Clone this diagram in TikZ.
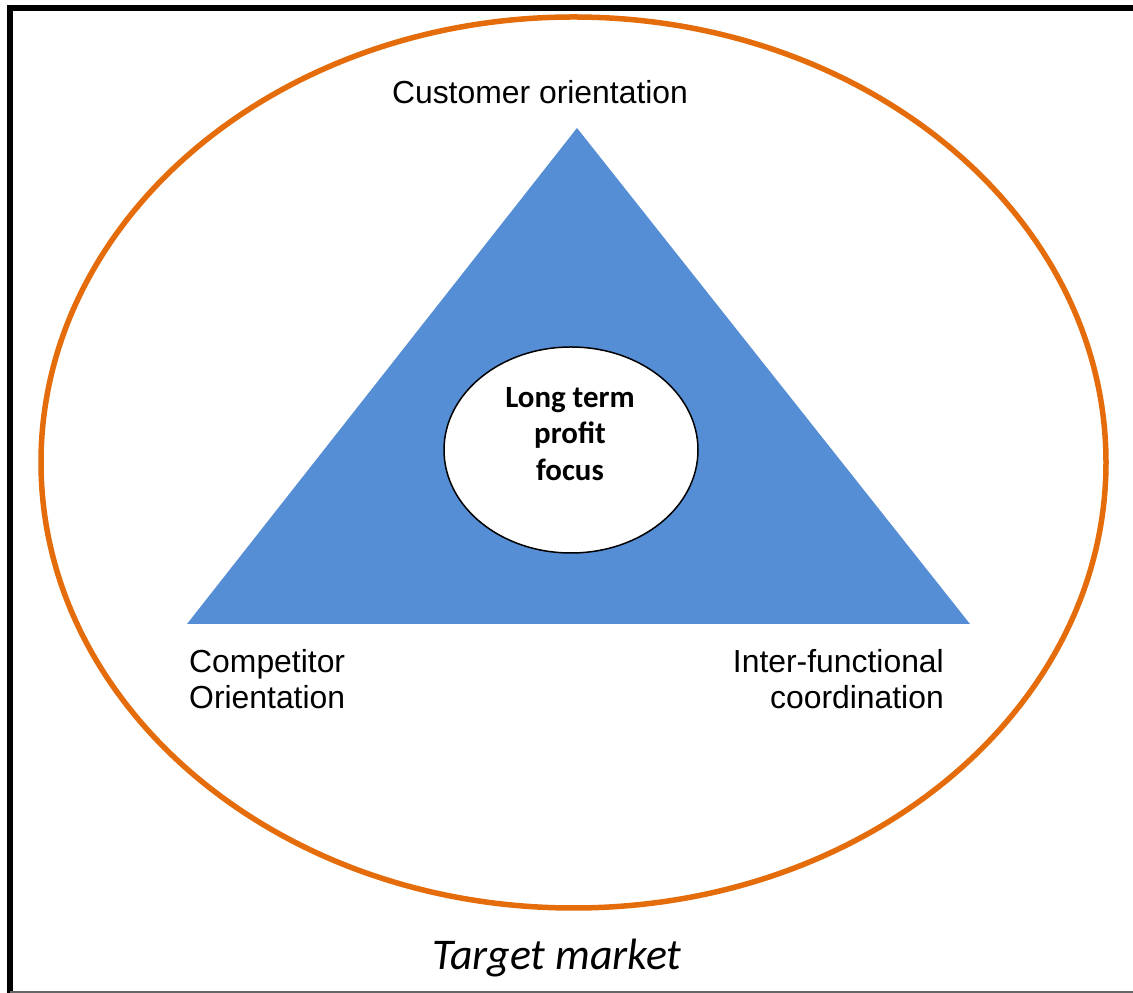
\documentclass[tikz,border=0pt]{standalone}
\usepackage{fontspec}
\setmainfont{Liberation Sans}
\newfontfamily\calibrifont{Carlito}
\usetikzlibrary{shapes.geometric}
\definecolor{marketorange}{RGB}{228,108,10}
\definecolor{triblue}{RGB}{85,142,213}
\tikzset{
  corner/.style={font=\fontsize{32}{36}\selectfont,inner sep=0pt},
}
\begin{document}
\begin{tikzpicture}[line join=miter,]
\useasboundingbox (0bp,0bp) rectangle (1133bp,993bp);
%%
\draw [line width=6bp] (10bp,0bp) -- (10bp,985bp) -- (1133bp,985bp);
\draw [gray!80!black,line width=1.5bp] (10bp,1bp) -- (1133bp,1bp);
\draw [marketorange,line width=5.5bp] (573.5bp,530.5bp) ellipse [x radius=532.5bp,y radius=445.5bp];
  \coordinate (apex) at (577bp,865bp);
  \coordinate (compet) at (187bp,369bp);
  \coordinate (inter) at (970bp,369bp);
  \fill [triblue] (apex) -- (inter) -- (compet) -- cycle;
  \node (profit) at (571bp,543bp) [draw,ellipse,fill=white,line width=1.5bp,minimum width=254bp,minimum height=206bp] {};
  \node (profittext) at (570bp,559bp) [align=center,font=\calibrifont\bfseries\fontsize{31}{37}\selectfont] {Long term\\profit\\focus};
  \node (customer) at (540bp,901bp) [corner] {Customer orientation};
  \node (competitor) at (189bp,314bp) [corner,anchor=west,align=left] {Competitor\\Orientation};
  \node (interfunc) at (944bp,314bp) [corner,anchor=east,align=right] {Inter-functional\\coordination};
  \node (target) at (557bp,35bp) [font=\calibrifont\itshape\fontsize{44}{48}\selectfont] {Target market};
%
\end{tikzpicture}
\end{document}
